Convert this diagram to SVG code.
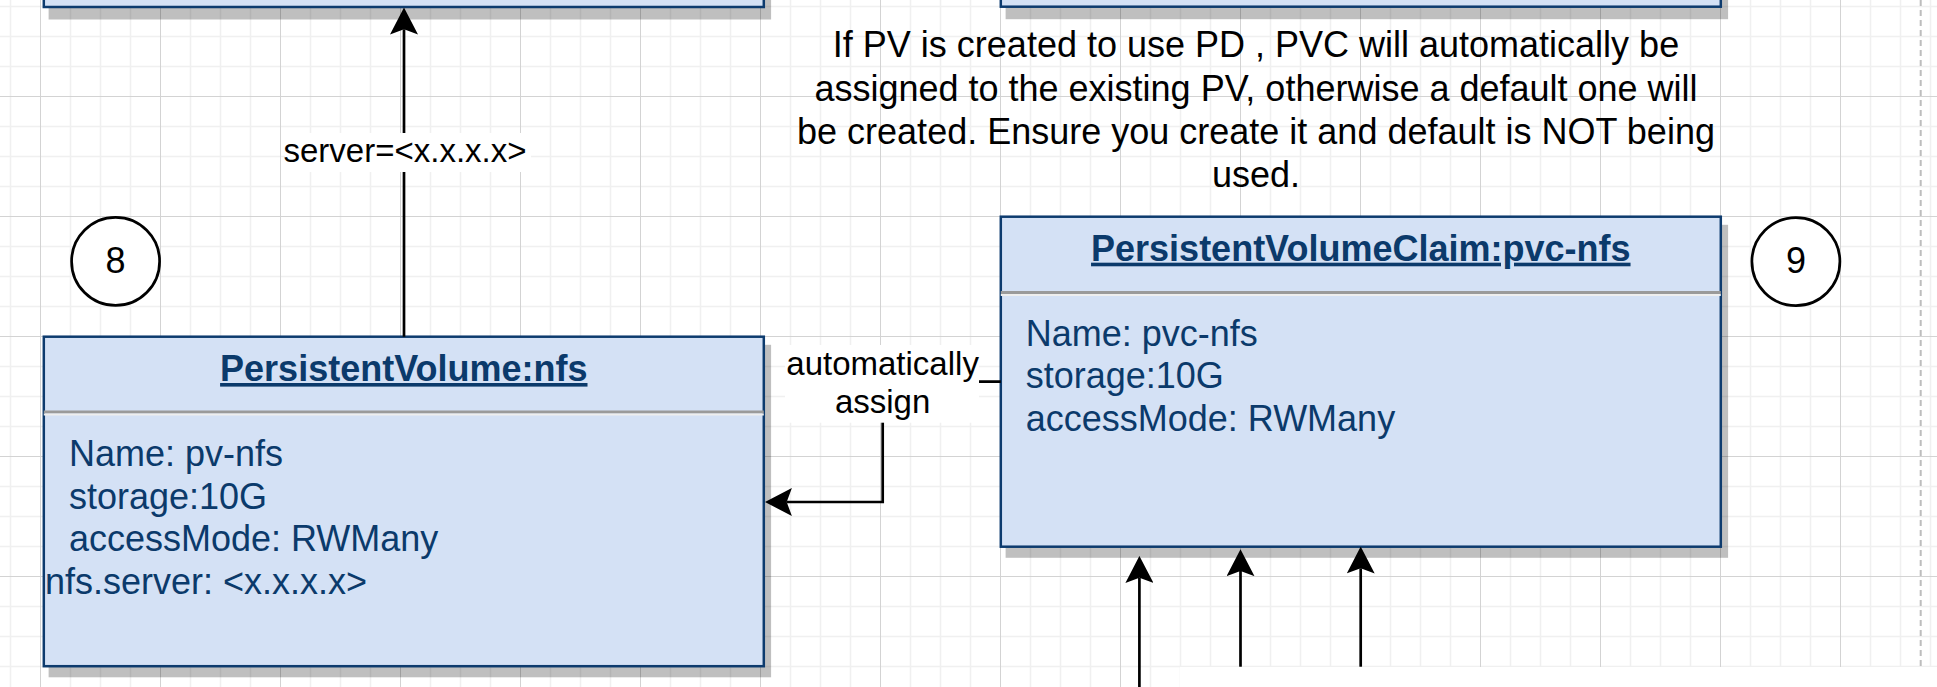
<svg xmlns="http://www.w3.org/2000/svg" width="1937" height="687" viewBox="0 0 1937 687">
<defs>
<style>
.box{fill:#d4e1f5;stroke:#0d3b6e;stroke-width:2.5}
.shadow{fill:#000;fill-opacity:0.25}
.div1{stroke:#9a9a9a;stroke-width:3}
.div2{stroke:#eeeeee;stroke-width:2}
.title{font-family:"Liberation Sans",Arial,sans-serif;font-size:36px;font-weight:bold;fill:#0b3a6b;text-anchor:middle;text-decoration:underline}
.body{font-family:"Liberation Sans",Arial,sans-serif;font-size:36px;fill:#0b3a6b}
.note{font-family:"Liberation Sans",Arial,sans-serif;font-size:36px;fill:#000;text-anchor:middle}
.lbl{font-family:"Liberation Sans",Arial,sans-serif;font-size:33px;fill:#000;text-anchor:middle}
.circ{fill:#fff;stroke:#000;stroke-width:2.7}
.num{font-family:"Liberation Sans",Arial,sans-serif;font-size:36px;fill:#000;text-anchor:middle}
.conn{fill:none;stroke:#000;stroke-width:2.7;marker-end:url(#arrow)}
.plain{fill:none;stroke:#000;stroke-width:2.7}
.lblbg{fill:#fff}
</style>
<pattern id="grid" patternUnits="userSpaceOnUse" x="40" y="96" width="120" height="120">
<path d="M30.5 0V120M60.5 0V120M90.5 0V120M0 30.5H120M0 60.5H120M0 90.5H120" stroke="#f0f0f0" stroke-width="1.5" fill="none"/>
<path d="M0.5 0V120M0 0.5H120" stroke="#d3d3d3" stroke-width="1" fill="none"/>
</pattern>
<marker id="arrow" markerUnits="userSpaceOnUse" markerWidth="27" markerHeight="28" viewBox="0 0 26 27" refX="5" refY="13.5" orient="auto">
<path d="M0 0L26 13.5L0 27L5 13.5Z" fill="#000"/>
</marker>
</defs>

<g id="background">
<rect x="0" y="0" width="1937" height="687" fill="#fff"/>
<rect x="0" y="0" width="1937" height="687" fill="url(#grid)"/>
<line x1="1920.7" y1="0" x2="1920.7" y2="667" stroke="#bdbdbd" stroke-width="2" stroke-dasharray="6 4"/>
<rect x="1180" y="667" width="757" height="20" fill="#fff"/>
</g>

<g id="node-top-left">
<rect class="shadow" x="48.6" y="-320" width="722.5" height="339.5"/>
<rect class="box" x="43.8" y="-330" width="720" height="337"/>
</g>

<g id="node-top-right">
<rect class="shadow" x="1005.6" y="-320" width="722.5" height="339.2"/>
<rect class="box" x="1000.8" y="-330" width="720" height="336.7"/>
</g>

<g id="node-pv">
<rect class="shadow" x="48.6" y="344.8" width="722.5" height="332.5"/>
<rect class="box" x="43.8" y="336.7" width="720" height="329.5"/>
<line class="div1" x1="43.8" y1="412" x2="763.8" y2="412"/>
<line class="div2" x1="43.8" y1="414.5" x2="763.8" y2="414.5"/>
<text class="title" x="403.8" y="381">PersistentVolume:nfs</text>
<text class="body" x="68.9" y="465.8">Name: pv-nfs</text>
<text class="body" x="68.9" y="508.6">storage:10G</text>
<text class="body" x="68.9" y="551.4">accessMode: RWMany</text>
<text class="body" x="44.9" y="594.2">nfs.server: &lt;x.x.x.x&gt;</text>
</g>

<g id="node-pvc">
<rect class="shadow" x="1005.6" y="224.8" width="722.5" height="333"/>
<rect class="box" x="1000.8" y="216.7" width="720" height="330"/>
<line class="div1" x1="1000.8" y1="292.4" x2="1720.8" y2="292.4"/>
<line class="div2" x1="1000.8" y1="294.9" x2="1720.8" y2="294.9"/>
<text class="title" x="1360.8" y="260.7">PersistentVolumeClaim:pvc-nfs</text>
<text class="body" x="1025.7" y="345.5">Name: pvc-nfs</text>
<text class="body" x="1025.7" y="388.3">storage:10G</text>
<text class="body" x="1025.7" y="431.1">accessMode: RWMany</text>
</g>

<g id="node-note">
<text class="note" x="1256" y="57.3">If PV is created to use PD , PVC will automatically be</text>
<text class="note" x="1256" y="100.6">assigned to the existing PV, otherwise a default one will</text>
<text class="note" x="1256" y="143.9">be created. Ensure you create it and default is NOT being</text>
<text class="note" x="1256" y="187.2">used.</text>
</g>

<g id="node-circle-8">
<circle class="circ" cx="115.6" cy="261.4" r="44"/>
<text class="num" x="115.6" y="272.7">8</text>
</g>

<g id="node-circle-9">
<circle class="circ" cx="1795.9" cy="261.6" r="44"/>
<text class="num" x="1795.9" y="273">9</text>
</g>

<g id="connectors">
<path class="conn" d="M404 336.7V29.3"/>
<rect class="lblbg" x="285" y="133" width="246" height="39"/>
<text class="lbl" x="405" y="162.3">server=&lt;x.x.x.x&gt;</text>

<path class="conn" d="M1000.8 381.7H882.7V502H786.7"/>
<rect class="lblbg" x="785" y="345" width="194" height="77.7"/>
<text class="lbl" x="882.6" y="374.5">automatically</text>
<text class="lbl" x="882.6" y="412.8">assign</text>

<path class="conn" d="M1139.4 687V577.7"/>
<path class="conn" d="M1240.5 666.7V571"/>
<path class="conn" d="M1360.7 666.7V568.3"/>
</g>
</svg>
